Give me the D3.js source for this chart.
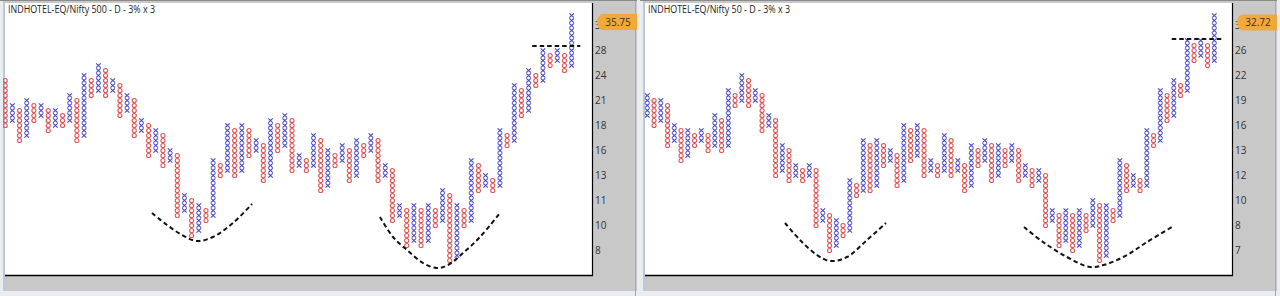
<!DOCTYPE html>
<html><head><meta charset="utf-8">
<script src="https://cdn.jsdelivr.net/npm/d3@7"></script>
<style>html,body{margin:0;padding:0;background:#e9edf2;}svg{display:block;}</style>
</head><body>
<svg id="c" width="1280" height="296"></svg>
<script>
// ---------- DATA (box index: 3% boxes, box 0 = lowest labelled level) ----------
const n500Title = "INDHOTEL-EQ/Nifty 500 - D - 3% x 3";
const n500First = "O";
const n500Low  = [25,26,22,23,26,27,24,25,25,26,22,23,31,32,31,32,27,28,23,24,19,20,17,18,7,8,3,4,6,7,15,16,15,16,19,20,14,15,20,21,16,17,16,17,12,13,17,18,14,15,19,20,14,15,6,7,1,2,1,2,5,6,-2,-1,5,6,12,13,12,13,21,22,27,28,33,34,37,38,36,37];
const n500High = [34,29,28,30,29,29,28,28,27,31,30,35,34,37,36,34,33,31,30,26,25,24,23,20,19,11,10,9,8,18,17,25,24,25,24,22,21,26,25,27,26,19,18,23,22,20,19,21,20,22,21,23,22,17,16,9,8,9,8,9,8,12,11,9,8,18,17,15,14,24,23,33,32,36,35,40,39,40,39,47];
const n500TickBoxes = [0,5,10,15,20,25,30,35,40,45];
const n500TickLabels = ["8","10","11","13","16","18","21","24","28","32"];
const n500Last = "35.75";
const n500LastBox = 45.7;

const n50Title = "INDHOTEL-EQ/Nifty 50 - D - 3% x 3";
const n50First = "X";
const n50Low  = [27,25,26,21,22,18,19,21,22,20,21,20,21,29,30,29,30,24,25,15,16,14,15,14,15,5,6,0,1,3,4,11,12,12,13,17,18,13,14,18,19,15,16,15,16,15,16,12,13,17,18,14,15,17,18,14,15,13,14,5,6,1,2,0,1,4,5,-2,-1,6,7,12,13,12,13,21,22,26,27,31,32,38,39,37,38];
const n50High = [31,30,30,29,25,24,24,23,24,23,27,26,32,31,35,34,32,31,27,26,21,20,17,16,17,16,8,7,6,5,14,13,22,21,22,21,20,19,25,24,25,24,18,17,23,22,18,17,21,20,22,21,21,20,21,20,17,16,16,15,8,7,8,7,8,7,10,9,9,8,18,17,15,14,24,23,32,31,34,33,42,41,42,41,47];
const n50TickBoxes = [0,5,10,15,20,25,30,35,40,45];
const n50TickLabels = ["7","8","10","12","13","16","19","22","26","30"];
const n50Last = "32.72";
const n50LastBox = 45.6;

// hand-drawn annotations, in (column index, box index)
const n500Curves = [
  [[20.47,7.5],[22.57,5.1],[24.66,3.1],[26.75,1.9],[28.98,2.7],[31.77,5.5],[34.42,9.3]],
  [[52.27,6.7],[54.09,2.7],[56.04,0.1],[58.27,-2.5],[60.22,-3.5],[61.76,-2.9],[63.85,-0.5],[66.22,2.7],[69.01,7.5]]
];
const n500Resist = [[73.5,40.9],[80.2,40.9]];
const n50Curves = [
  [[20.4,5.5],[22.62,2.1],[25.14,-0.9],[27.07,-2.1],[29.59,-1.3],[32.55,2.1],[35.36,5.5]],
  [[55.81,4.7],[58.62,1.7],[62.18,-1.3],[65.59,-3.3],[68.1,-2.7],[71.07,-0.9],[74.03,1.7],[77.73,4.7]]
];
const n50Resist = [[77.7,42.3],[85.3,42.3]];

// ---------- DRAW ----------
const svg = d3.select("#c");
const X_COL = "#4b4bc8", O_COL = "#e05858";
const FONT = "'Open Sans', 'Noto Sans', sans-serif";

function panel(cfg){
  const ox = cfg.ox;
  const g = svg.append("g");
  const plotL = ox+5, plotR = ox+592, plotT = 3, plotB = 275;
  // frame
  g.append("rect").attr("x",ox+3).attr("y",0).attr("width",634).attr("height",291).attr("fill","#c8c8c8");
  g.append("line").attr("x1",ox).attr("x2",ox+637).attr("y1",0.5).attr("y2",0.5).attr("stroke","#8a8a8a");
  g.append("rect").attr("x",plotL).attr("y",plotT).attr("width",plotR-plotL).attr("height",plotB-plotT).attr("fill","#fff");
  g.append("line").attr("x1",ox+4.5).attr("x2",ox+4.5).attr("y1",1).attr("y2",291).attr("stroke","#b9c7d6");
  g.append("line").attr("x1",ox+635.5).attr("x2",ox+635.5).attr("y1",1).attr("y2",296).attr("stroke","#a9a9a9");
  g.append("line").attr("x1",plotL).attr("x2",plotR+1).attr("y1",plotB+0.5).attr("y2",plotB+0.5).attr("stroke","#000").attr("stroke-width",1.6);
  g.append("line").attr("x1",plotR+0.5).attr("x2",plotR+0.5).attr("y1",plotT).attr("y2",plotB+1).attr("stroke","#000").attr("stroke-width",1.2);

  const n = cfg.low.length;
  const x = d3.scaleLinear().domain([0, n-1]).range([cfg.x0, cfg.x1]);
  const y = d3.scaleLinear().domain([0, 45]).range([250.5, 25.5]);

  const clipId = "clip"+ox;
  g.append("clipPath").attr("id",clipId).append("rect").attr("x",plotL-2).attr("y",plotT).attr("width",plotR-plotL+2).attr("height",plotB-plotT);
  const pg = g.append("g").attr("clip-path",`url(#${clipId})`);

  const cells = [];
  cfg.low.forEach((lo,i)=>{
    const isX = (i%2===0) === (cfg.first==="X");
    for(let k=lo;k<=cfg.high[i];k++) cells.push({i,k,isX});
  });
  pg.selectAll("path.x").data(cells.filter(c=>c.isX)).join("path")
    .attr("d",c=>{const cx=x(c.i), cy=y(c.k); return `M${cx-2.3},${cy-2.2}L${cx+2.3},${cy+2.2}M${cx+2.3},${cy-2.2}L${cx-2.3},${cy+2.2}`;})
    .attr("stroke",X_COL).attr("stroke-width",1.15).attr("fill","none");
  pg.selectAll("circle.o").data(cells.filter(c=>!c.isX)).join("circle")
    .attr("cx",c=>x(c.i)).attr("cy",c=>y(c.k)).attr("r",2.05)
    .attr("stroke",O_COL).attr("stroke-width",1.1).attr("fill","none");

  const line = d3.line().x(d=>x(d[0])).y(d=>y(d[1])).curve(d3.curveCatmullRom);
  cfg.curves.forEach(c=>{
    pg.append("path").attr("d",line(c)).attr("fill","none").attr("stroke","#111").attr("stroke-width",2).attr("stroke-dasharray","4.5,3");
  });
  pg.append("path").attr("d",d3.line().x(d=>x(d[0])).y(d=>y(d[1]))(cfg.resist)).attr("fill","none").attr("stroke","#111").attr("stroke-width",2).attr("stroke-dasharray","4.5,3");

  // title
  g.append("text").attr("x",ox+8).attr("y",13).text(cfg.title)
    .attr("font-family",FONT).attr("font-size",11).attr("fill","#222")
    .attr("textLength",cfg.titleW).attr("lengthAdjust","spacingAndGlyphs");

  // axis labels
  const ax = g.append("g");
  cfg.ticks.forEach((b,j)=>{
    ax.append("text").attr("x",ox+595).attr("y",y(b)+3.5).text(cfg.labels[j])
      .attr("font-family",FONT).attr("font-size",10).attr("fill","#333");
  });
  // last value tag
  const ty = y(cfg.lastBox);
  const tx = ox+597;
  g.append("path").attr("d",`M${tx},${ty} Q${tx+1},${ty-8} ${tx+6},${ty-8} L${ox+637},${ty-8} L${ox+637},${ty+8} L${tx+6},${ty+8} Q${tx+1},${ty+8} ${tx},${ty} Z`)
    .attr("fill","#f2a93b");
  g.append("text").attr("x",ox+618).attr("y",ty+3.5).attr("text-anchor","middle").text(cfg.last)
    .attr("font-family",FONT).attr("font-size",10).attr("fill","#333");
}

panel({ox:0, x0:5.2, x1:5.2+7.17*79, low:n500Low, high:n500High, first:n500First, title:n500Title, titleW:147,
  ticks:n500TickBoxes, labels:n500TickLabels, last:n500Last, lastBox:n500LastBox, curves:n500Curves, resist:n500Resist});
panel({ox:640, x0:647.3, x1:647.3+6.75*84, low:n50Low, high:n50High, first:n50First, title:n50Title, titleW:142,
  ticks:n50TickBoxes, labels:n50TickLabels, last:n50Last, lastBox:n50LastBox, curves:n50Curves, resist:n50Resist});
</script>
</body></html>
